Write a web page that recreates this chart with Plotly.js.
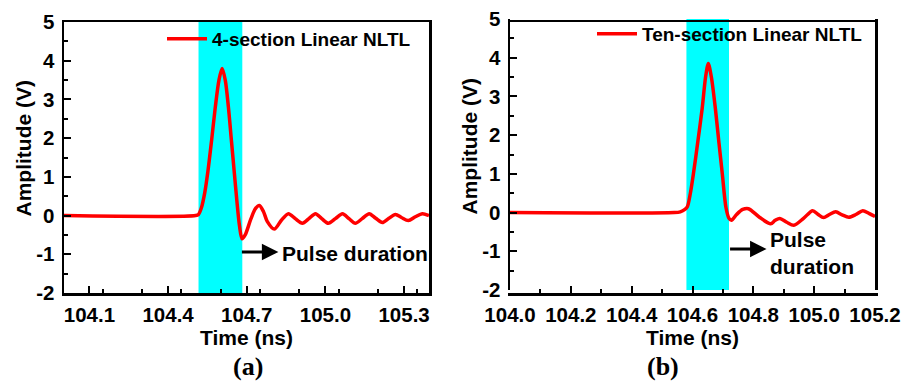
<!DOCTYPE html>
<html>
<head>
<meta charset="utf-8">
<script src="https://cdn.plot.ly/plotly-3.0.1.min.js"></script>
<style>html,body{margin:0;padding:0;background:#fff;}#chart{width:907px;height:382px;}</style>
</head>
<body>
<div id="chart"></div>
<script>
// ---- Data ----
const timeA = [104.0, 104.505, 104.516, 104.527, 104.540, 104.552, 104.566, 104.580, 104.594, 104.606, 104.618, 104.630, 104.642, 104.653, 104.662, 104.672, 104.682, 104.694, 104.715, 104.733, 104.748, 104.764, 104.778, 104.805, 104.832, 104.859, 104.885, 104.912, 104.937, 104.962, 104.986, 105.011, 105.038, 105.065, 105.090, 105.114, 105.140, 105.167, 105.192, 105.217, 105.242, 105.267, 105.290, 105.316, 105.343, 105.370, 105.395];
const ampA  = [0, 0, 0.03, 0.2, 0.6, 1.15, 1.95, 2.8, 3.5, 3.8, 3.5, 2.8, 1.9, 1.07, 0.4, -0.25, -0.6, -0.5, -0.1, 0.18, 0.26, 0.1, -0.15, -0.35, -0.12, 0.05, -0.08, -0.2, -0.08, 0.05, -0.08, -0.2, -0.08, 0.05, -0.08, -0.2, -0.08, 0.05, -0.07, -0.18, -0.07, 0.03, -0.05, -0.13, -0.03, 0.05, 0.0];

const timeB = [104.0, 104.54, 104.56, 104.575, 104.583, 104.593, 104.603, 104.618, 104.632, 104.643, 104.652, 104.662, 104.675, 104.687, 104.698, 104.710, 104.720, 104.728, 104.745, 104.765, 104.784, 104.82, 104.857, 104.872, 104.887, 104.91, 104.933, 104.965, 104.995, 105.013, 105.031, 105.05, 105.071, 105.092, 105.114, 105.137, 105.16, 105.18, 105.2];
const ampB  = [0, 0, 0.02, 0.08, 0.15, 0.5, 1.0, 1.86, 2.7, 3.5, 3.85, 3.5, 2.7, 1.8, 1.0, 0.13, -0.15, -0.2, -0.05, 0.08, 0.1, -0.12, -0.29, -0.2, -0.15, -0.25, -0.33, -0.15, 0.05, -0.05, -0.13, -0.05, 0.02, -0.06, -0.12, -0.05, 0.05, -0.02, -0.1];

const nameA = "4-section Linear NLTL";
const nameB = "Ten-section Linear NLTL";
const bandA = [104.516, 104.683];   // pulse-duration window (a)
const bandB = [104.58, 104.72];     // pulse-duration window (b)
const xTicksA = [104.1, 104.4, 104.7, 105.0, 105.3];
const xTicksB = [104.0, 104.2, 104.4, 104.6, 104.8, 105.0, 105.2];
const yTicks = [-2, -1, 0, 1, 2, 3, 4, 5];
const yTickText = ["-2", "-1", "0", "1", "2", "3", "4", "5"];
const panelLabels = ["(a)", "(b)"];
const pulseText = ["Pulse duration", "Pulse<br>duration"];
const yTitle = "Amplitude (V)";
const xTitle = "Time (ns)";

// ---- Styling ----
const W = 907, H = 382;
const FONT = "Liberation Sans, Arial, sans-serif";
const tickFont = {family: FONT, size: 20.5, color: "#000", weight: "bold"};
const titleFont = {family: FONT, size: 21, color: "#000", weight: "bold"};

function xAxis(domain, range, ticks, minorD) {
  return {
    domain: domain, range: range, tickvals: ticks, ticktext: ticks.map(v => v.toFixed(1)),
    ticks: "inside", ticklen: 7, tickwidth: 2, tickcolor: "#000",
    minor: {ticks: "inside", dtick: minorD, tick0: 104.0, ticklen: 4, tickwidth: 2, tickcolor: "#000", showgrid: false},
    showline: true, linecolor: "#000", linewidth: 2.5, mirror: true,
    showgrid: false, zeroline: false, tickfont: tickFont, ticklabelstandoff: 2,
    title: {text: xTitle, font: titleFont, standoff: 1}
  };
}
function yAxis(domain, anchor) {
  return {
    domain: domain, range: [-2, 5], tickvals: yTicks, ticktext: yTickText, anchor: anchor,
    ticks: "inside", ticklen: 7, tickwidth: 2, tickcolor: "#000",
    minor: {ticks: "inside", dtick: 0.5, ticklen: 4, tickwidth: 2, tickcolor: "#000", showgrid: false},
    showline: true, linecolor: "#000", linewidth: 2.5, mirror: true,
    showgrid: false, zeroline: false, tickfont: tickFont, ticklabelstandoff: 3
  };
}

const traces = [
  {x: timeA, y: ampA, type: "scatter", mode: "lines", name: nameA, xaxis: "x", yaxis: "y",
   line: {color: "#ff0000", width: 3.5, shape: "spline", smoothing: 0.8}, legend: "legend"},
  {x: timeB, y: ampB, type: "scatter", mode: "lines", name: nameB, xaxis: "x2", yaxis: "y2",
   line: {color: "#ff0000", width: 3.5, shape: "spline", smoothing: 0.8}, legend: "legend2"}
];

const legendCommon = {font: {family: FONT, size: 19, color: "#000", weight: "bold"}, bgcolor: "rgba(0,0,0,0)",
  borderwidth: 0, xanchor: "left", yanchor: "middle", itemwidth: 40, tracegroupgap: 0};

const labelFont = {family: "Liberation Serif, Times New Roman, serif", size: 26, color: "#000", weight: "bold"};
const pulseFont = {family: FONT, size: 21, color: "#000", weight: "bold"};

const layout = {
  width: W, height: H, margin: {l: 0, r: 0, t: 0, b: 0},
  paper_bgcolor: "#fff", plot_bgcolor: "rgba(0,0,0,0)",
  showlegend: true,
  xaxis: xAxis([64 / W, 429 / W], [104.003, 105.395], xTicksA, 0.15),
  yaxis: yAxis([1 - 293 / H, 1 - 22 / H], "x"),
  xaxis2: xAxis([510 / W, 875 / W], [104.0, 105.2], xTicksB, 0.1),
  yaxis2: yAxis([1 - 290 / H, 1 - 19 / H], "x2"),
  legend: Object.assign({}, legendCommon, {x: 162 / W, y: 1 - 39 / H}),
  legend2: Object.assign({}, legendCommon, {x: 592 / W, y: 1 - 34 / H}),
  shapes: [
    {type: "rect", xref: "x", yref: "y domain", x0: bandA[0], x1: bandA[1], y0: 0, y1: 1,
     fillcolor: "#00ffff", line: {width: 0}, layer: "below"},
    {type: "rect", xref: "x2", yref: "y2 domain", x0: bandB[0], x1: bandB[1], y0: 0, y1: 1,
     fillcolor: "#00ffff", line: {width: 0}, layer: "below"}
  ],
  annotations: [
    {xref: "paper", yref: "paper", x: 23 / W, y: 1 - 148.5 / H, text: yTitle, textangle: -90, showarrow: false,
     xanchor: "center", yanchor: "middle", font: titleFont},
    {xref: "paper", yref: "paper", x: 469 / W, y: 1 - 146.5 / H, text: yTitle, textangle: -90, showarrow: false,
     xanchor: "center", yanchor: "middle", font: titleFont},
    {xref: "x", yref: "y", x: 104.8206, y: -0.94, ax: -38, ay: 0, text: "", showarrow: true,
     arrowhead: 2, arrowsize: 1.1, arrowwidth: 3, arrowcolor: "#000"},
    {xref: "x", yref: "y", x: 104.826, y: -0.99, text: pulseText[0], showarrow: false,
     xanchor: "left", yanchor: "middle", font: pulseFont},
    {xref: "x2", yref: "y2", x: 104.8435, y: -0.94, ax: -38, ay: 0, text: "", showarrow: true,
     arrowhead: 2, arrowsize: 1.1, arrowwidth: 3, arrowcolor: "#000"},
    {xref: "x2", yref: "y2", x: 104.847, y: -1.04, text: pulseText[1], showarrow: false, align: "left",
     xanchor: "left", yanchor: "middle", font: pulseFont},
    {xref: "paper", yref: "paper", x: 248 / W, y: 1 - 366 / H, text: panelLabels[0], showarrow: false,
     xanchor: "center", yanchor: "middle", font: labelFont},
    {xref: "paper", yref: "paper", x: 663 / W, y: 1 - 366 / H, text: panelLabels[1], showarrow: false,
     xanchor: "center", yanchor: "middle", font: labelFont}
  ]
};

Plotly.newPlot("chart", traces, layout, {displayModeBar: false, staticPlot: true});
</script>
</body>
</html>
